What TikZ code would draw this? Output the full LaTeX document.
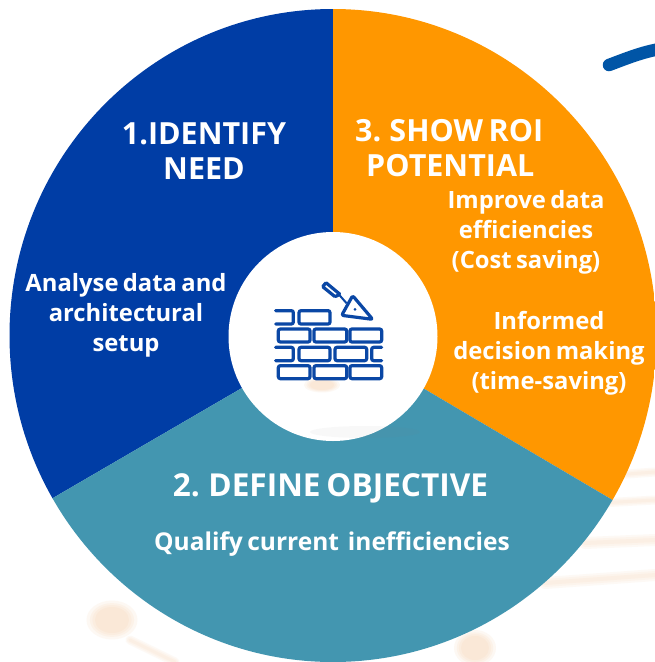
\documentclass[tikz,border=0pt]{standalone}
\usepackage{fontspec}
\setmainfont{Open Sans}[WordSpace=0.7]
\definecolor{cblue}{HTML}{003DA5}
\definecolor{corange}{HTML}{FF9700}
\definecolor{cteal}{HTML}{4396B0}
\definecolor{cicon}{HTML}{0A47A5}
\definecolor{cswoosh}{HTML}{0055A6}
\definecolor{csmudge}{HTML}{F5C9A0}
\tikzset{
  head/.style={text=white,font=\fontsize{30.5}{35}\selectfont\bfseries,align=center,inner sep=0pt},
  body/.style={text=white,font=\fontsize{23.8}{30}\selectfont\bfseries,align=center,inner sep=0pt},
  brick/.style={draw=cicon,line width=3.2pt,rounded corners=2pt,line cap=round},
  smudge/.style={line cap=round,draw=csmudge,opacity=.1},
  smudgefill/.style={fill=csmudge,opacity=.12},
}
\newcommand{\softline}[3]{%
  \foreach \w in {1,2,3}{\draw[smudge,line width=\w*#3] #1 -- #2;}}
\newcommand{\softblob}[3]{%
  \foreach \w in {1,1.15,1.3,1.5}{\fill[smudgefill] #1 ellipse[x radius=\w*#2,y radius=\w*#3];}}
\newcommand{\brk}[4]{\draw[brick] ({230+#1/3},{240+#2/3}) rectangle ({230+#3/3},{240+#4/3});}
\begin{document}
\begin{tikzpicture}[x=1pt,y=-1pt]
\useasboundingbox (0,0) rectangle (655,662);
\fill[white] (0,0) rectangle (655,662);
% faint background
\softblob{(112,620)}{17}{13}
\softline{(585,477)}{(655,472)}{3}
\softline{(600,503)}{(655,500)}{3}
\softline{(585,543)}{(655,540)}{4}
\softline{(545,583)}{(655,575)}{4}
\softblob{(475,648)}{14}{12}
\softline{(130,640)}{(175,662)}{3}
% swoosh
\coordinate (sa) at (609,65);
\coordinate (sb) at (660,49);
\draw[cswoosh,line width=12.5pt,line cap=round] (sa) .. controls (625,59) and (642,52) .. (sb);
% wedges
\coordinate (c) at (333,335);
\begin{scope}
\clip (333,335.5) ellipse[x radius=323.5,y radius=326.5];
\fill[cblue] (c) -- (333,-10) -- (-100,-10) -- (-100,587) -- cycle;
\fill[corange] (c) -- (333,-10) -- (760,-10) -- (760,587) -- cycle;
\fill[cteal] (c) -- (-100,587) -- (-100,700) -- (760,700) -- (760,587) -- cycle;
\end{scope}
\fill[white] (333,336.5) circle[radius=104.5];
\softblob{(322,385)}{12}{5}
\fill[gray,opacity=.05] (365,432) ellipse[x radius=55,y radius=6];
% labels
\node[head] (t1) at (204,151.5) {1.IDENTIFY\\NEED};
\node[head,anchor=west] (t3) at (355,131) {3. SHOW ROI};
\node[head,anchor=west] (t3b) at (366,166) {POTENTIAL};
\node[head,font=\fontsize{31.6}{35}\selectfont\bfseries] (t2) at (330.5,488.5) {2. DEFINE OBJECTIVE};
\node[body] (b1) at (126,315.5) {Analyse data and\\architectural\\setup};
\node[body] (b2) at (526,232) {Improve data\\efficiencies\\(Cost saving)};
\node[body] (b3) at (549,353) {Informed\\decision making\\(time-saving)};
\node[body,font=\fontsize{24.5}{30}\selectfont\bfseries] (b4) at (332,544) {Qualify current\ \ inefficiencies};
% icon
\brk{207}{212}{300}{252}
\brk{145}{267}{240}{306}
\brk{252}{267}{350}{306}
\brk{360}{267}{455}{306}
\brk{207}{322}{300}{362}
\brk{315}{322}{410}{362}
\brk{145}{377}{240}{416}
\brk{252}{377}{350}{416}
\brk{360}{377}{455}{416}
\draw[brick] ({230+137/3},{240+212/3}) -- ({230+190/3},{240+212/3}) -- ({230+190/3},{240+252/3}) -- ({230+137/3},{240+252/3});
\draw[brick] ({230+137/3},{240+322/3}) -- ({230+190/3},{240+322/3}) -- ({230+190/3},{240+362/3}) -- ({230+137/3},{240+362/3});
\draw[brick] ({230+455/3},{240+322/3}) -- ({230+425/3},{240+322/3}) -- ({230+425/3},{240+362/3}) -- ({230+455/3},{240+362/3});
% trowel
\draw[brick,line join=round] ({230+368/3},{240+167/3}) -- ({230+428/3},{240+238/3}) -- ({230+335/3},{240+226/3}) -- cycle;
\draw[brick,rounded corners=1pt] ({230+288/3},{240+128/3}) -- ({230+278/3},{240+140/3}) -- ({230+315/3},{240+170/3}) -- ({230+330/3},{240+163/3}) -- cycle;
\draw[cicon,line width=2pt] ({230+328/3},{240+165/3}) -- ({230+350/3},{240+190/3});
\fill[cicon] ({230+375/3},{240+208/3}) circle[radius=1.5];
\end{tikzpicture}
\end{document}
